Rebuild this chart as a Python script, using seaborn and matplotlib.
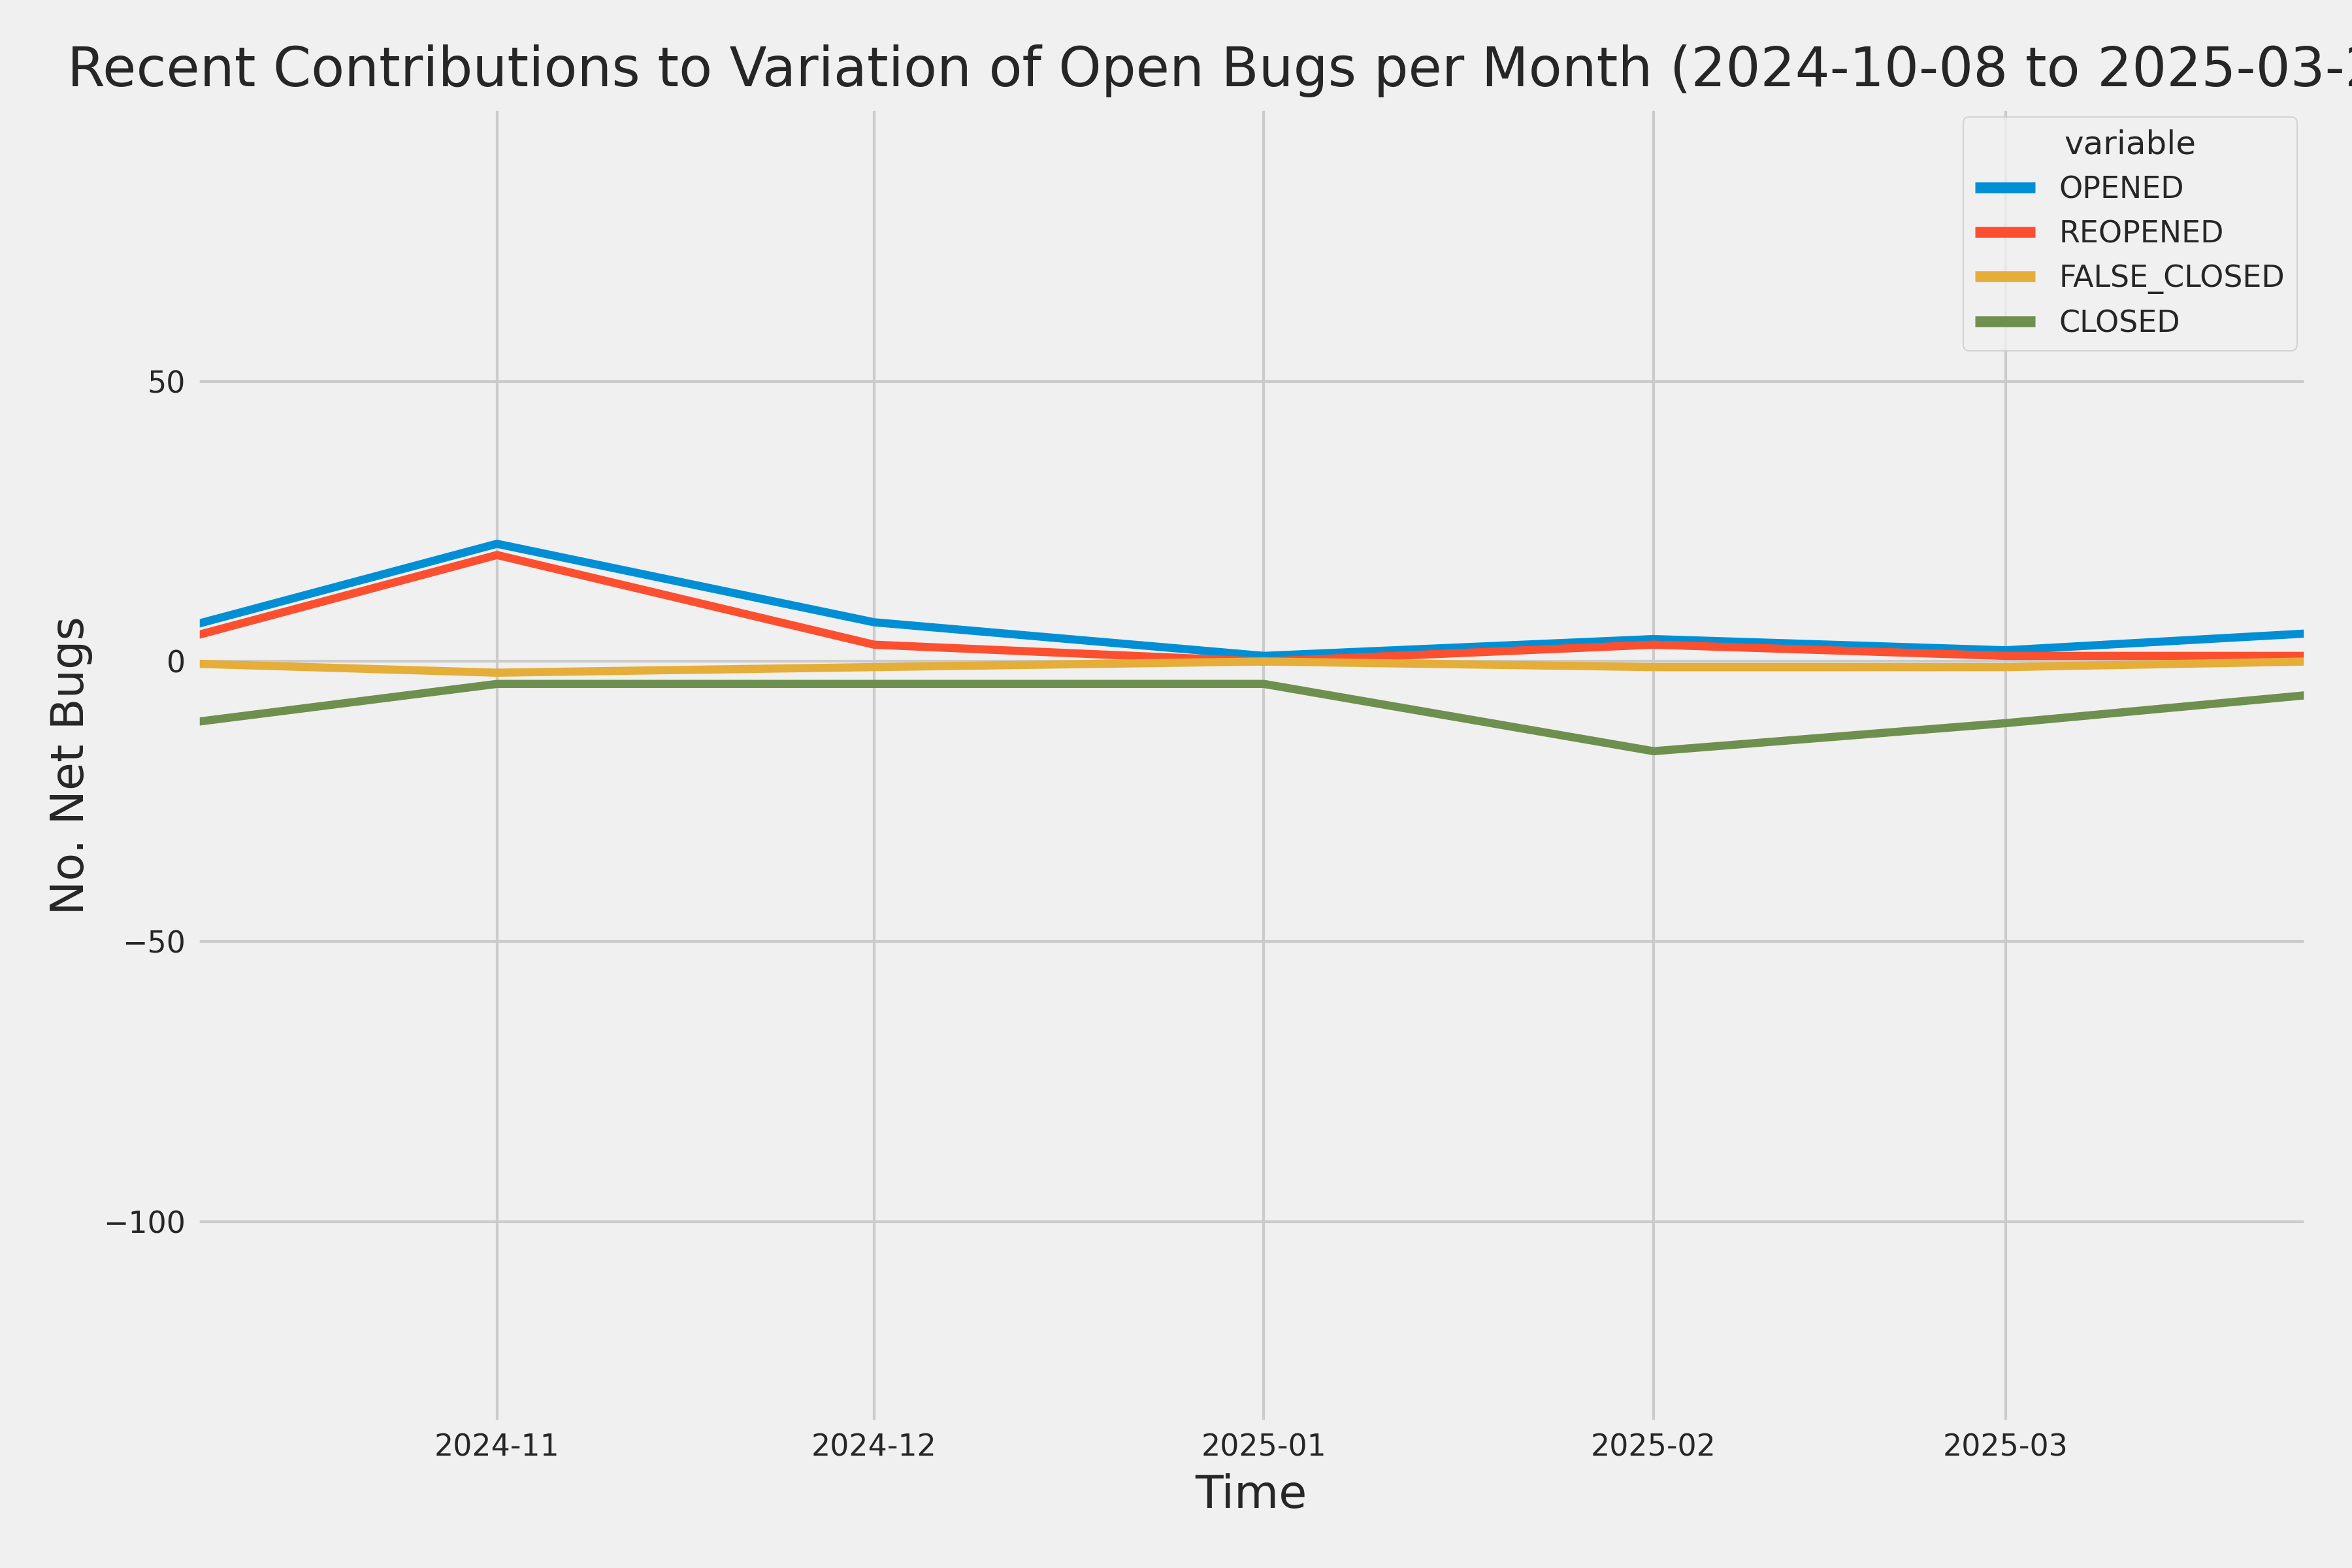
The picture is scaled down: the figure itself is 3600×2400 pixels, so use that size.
import pandas as pd
import matplotlib
matplotlib.use('Agg')
import matplotlib.pyplot as plt
import seaborn as sns

# month points
dates = ['2024-10-08', '2024-11-01', '2024-12-01', '2025-01-01',
         '2025-02-01', '2025-03-01', '2025-03-25']
opened = [6.6, 21, 7, 1, 4, 2, 5]
reopened = [4.6, 19, 3, 0, 3, 1, 1]
false_closed = [-0.4, -2, -1, 0, -1, -1, 0]
closed = [-10.8, -4, -4, -4, -16, -11, -6]

df = pd.DataFrame({
    'Time': pd.to_datetime(dates),
    'OPENED': opened,
    'REOPENED': reopened,
    'FALSE_CLOSED': false_closed,
    'CLOSED': closed,
})
long_df = df.melt(id_vars='Time', value_name='No. Net Bugs')

sns.set_theme()
plt.style.use('fivethirtyeight')
plt.rcParams['font.family'] = ['DejaVu Sans']
plt.rcParams['xtick.labelsize'] = 11
plt.rcParams['ytick.labelsize'] = 11
plt.rcParams['legend.fontsize'] = 11
plt.rcParams['legend.title_fontsize'] = 12
plt.rcParams['legend.edgecolor'] = '0.8'

fig, ax = plt.subplots(figsize=(12, 8))
sns.lineplot(data=long_df, x='Time', y='No. Net Bugs', hue='variable',
             linewidth=3, ax=ax)

ax.set_xlim(df['Time'].iloc[0], df['Time'].iloc[-1])
ax.set_ylim(-136, 99)
ax.set_title('Recent Contributions to Variation of Open Bugs per Month '
             f'({dates[0]} to {dates[-1]})', fontsize=20, pad=7.4)
ax.set_xlabel('Time')
ax.set_ylabel('No. Net Bugs')

leg = ax.legend(title='variable', loc='upper right', fancybox=True,
                borderaxespad=0.35)
for line in leg.get_lines():
    line.set_linewidth(4)

fig.subplots_adjust(left=0.083, right=0.981, top=0.932, bottom=0.092)
fig.savefig('out.png', dpi=300)
